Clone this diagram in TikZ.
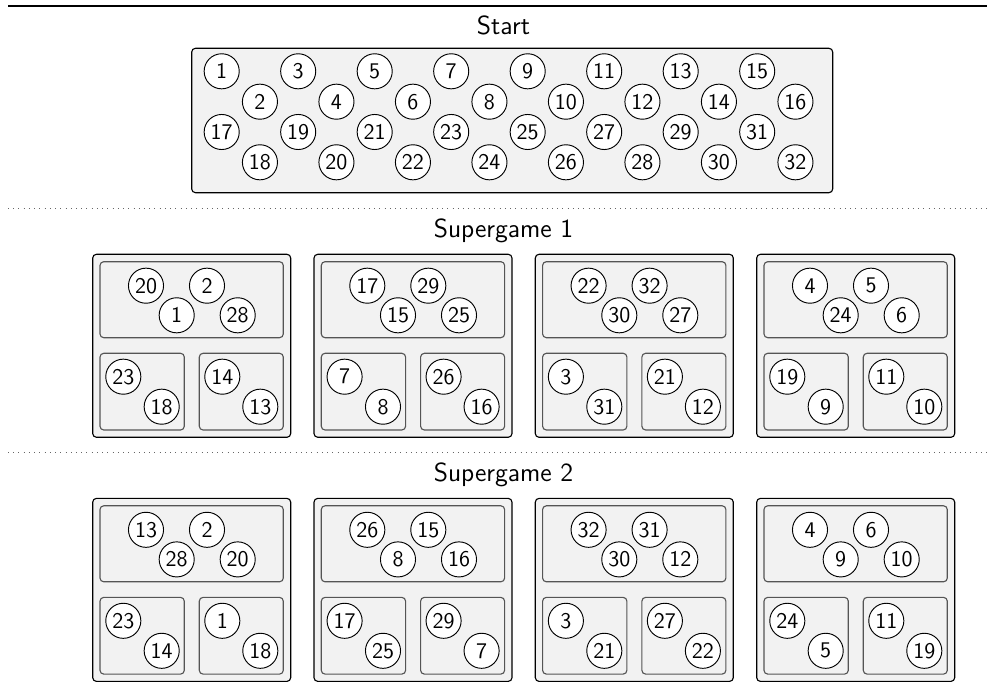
\documentclass[tikz,border=0pt]{standalone}
\usepackage{tikz}
\usetikzlibrary{positioning}
\definecolor{poolgray}{RGB}{242,242,242}
\definecolor{edgegray}{RGB}{85,85,85}
\tikzset{
  player/.style={circle, draw=black, fill=white, minimum size=0.66cm,
    inner sep=0pt, font=\sffamily\large, line width=0.5pt},
  poolbox/.style={draw=black, fill=poolgray, rounded corners=2pt, line width=0.6pt},
  subbox/.style={draw=edgegray, fill=poolgray, rounded corners=2pt, line width=0.6pt},
  title/.style={font=\sffamily\fontsize{14}{17}\selectfont, anchor=base},
  rule/.style={line width=0.8pt},
  divider/.style={black!60, line width=0.5pt, dash pattern=on 0.5pt off 2.3pt}
}
% one group: #1 corner, #2-#5 table, #6-#7 left pair, #8-#9 right pair
\newcommand{\matchgroup}[9]{
  \begin{scope}[shift={(#1)}]
    \draw[poolbox] (0,0) rectangle (198,183);
    \draw[subbox] (7.3,7.4) rectangle (190.6,83.4);
    \draw[subbox] (7.3,99) rectangle (91.6,175.7);
    \draw[subbox] (106.6,99) rectangle (190.6,175.7);
    \node[player] (#2) at (53.3,31.4) {#2};
    \node[player] (#3) at (114.3,31.4) {#3};
    \node[player] (#4) at (84,61) {#4};
    \node[player] (#5) at (145,61) {#5};
    \node[player] (#6) at (30.6,122.4) {#6};
    \node[player] (#7) at (69,152.4) {#7};
    \node[player] (#8) at (129.6,122.4) {#8};
    \node[player] (#9) at (167.6,152.4) {#9};
  \end{scope}
}

\begin{document}
\begin{tikzpicture}[x=0.01882cm, y=-0.01882cm]
  \useasboundingbox (0,0) rectangle (987,693);

  % Start
  \draw[rule] (8,6) -- (999,6);
  \node[title] (start) at (503.5,35) {Start};
  \draw[poolbox] (191.7,48.3) rectangle (832.7,192.7);
  \foreach \k in {0,...,7}{
    \pgfmathtruncatemacro{\odd}{2*\k+1}
    \pgfmathtruncatemacro{\even}{2*\k+2}
    \pgfmathtruncatemacro{\lodd}{2*\k+17}
    \pgfmathtruncatemacro{\leven}{2*\k+18}
    \node[player] (p\odd) at (221.7+76.5*\k, 71.3) {\odd};
    \node[player] (p\even) at (259.95+76.5*\k, 101.7) {\even};
    \node[player] (p\lodd) at (221.7+76.5*\k, 132) {\lodd};
    \node[player] (p\leven) at (259.95+76.5*\k, 162.3) {\leven};
  }

  % Supergame 1
  \draw[divider] (8,208.3) -- (999,208.3);
  \node[title] (sg1) at (503.5,237.3) {Supergame 1};
  \begin{scope}[name prefix=s1-]
    \matchgroup{92.7,254.3}{20}{2}{1}{28}{23}{18}{14}{13}
    \matchgroup{314,254.3}{17}{29}{15}{25}{7}{8}{26}{16}
    \matchgroup{535.3,254.3}{22}{32}{30}{27}{3}{31}{21}{12}
    \matchgroup{756.7,254.3}{4}{5}{24}{6}{19}{9}{11}{10}
  \end{scope}

  % Supergame 2
  \draw[divider] (8,452.5) -- (999,452.5);
  \node[title] (sg2) at (503.5,481.5) {Supergame 2};
  \begin{scope}[name prefix=s2-]
    \matchgroup{92.7,498.4}{13}{2}{28}{20}{23}{14}{1}{18}
    \matchgroup{314,498.4}{26}{15}{8}{16}{17}{25}{29}{7}
    \matchgroup{535.3,498.4}{32}{31}{30}{12}{3}{21}{27}{22}
    \matchgroup{756.7,498.4}{4}{6}{9}{10}{24}{5}{11}{19}
  \end{scope}
\end{tikzpicture}
\end{document}
